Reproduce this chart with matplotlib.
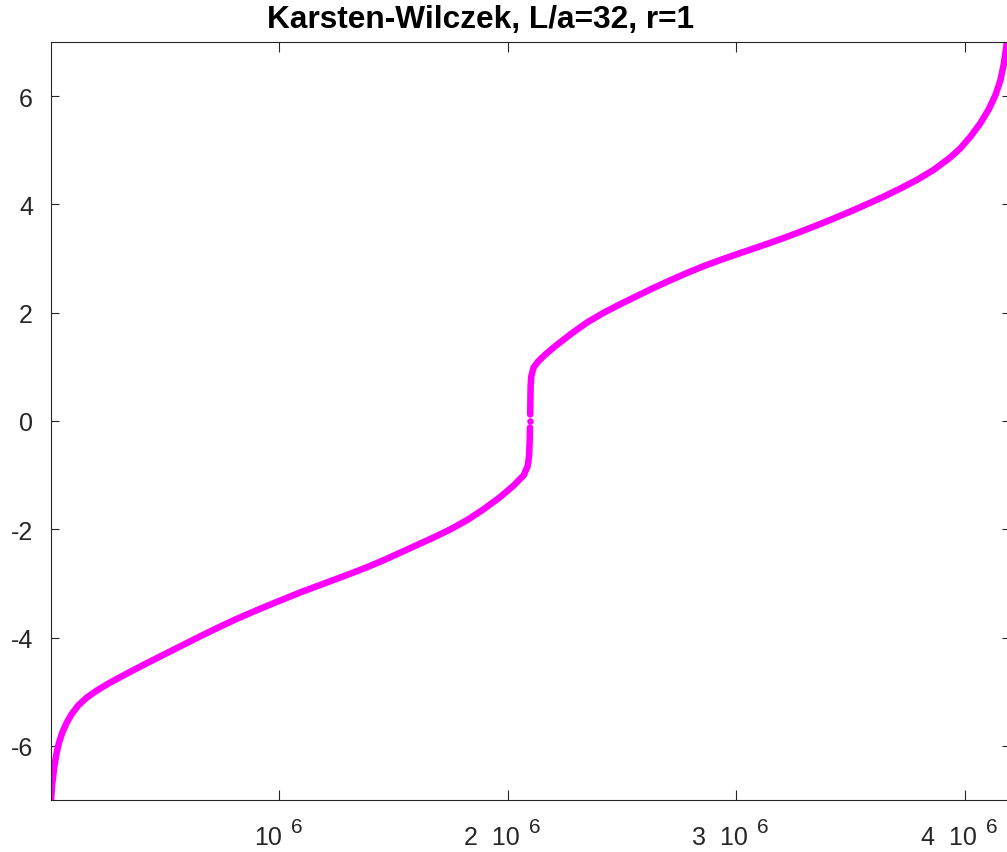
import numpy as np
import matplotlib
matplotlib.use("Agg")
import matplotlib.pyplot as plt
from matplotlib.transforms import blended_transform_factory, ScaledTranslation

plt.rcParams['font.family'] = ['Liberation Sans', 'DejaVu Sans']

# eigenvalue index (in units of 1e6) and sorted eigenvalue, negative branch
neg_idx = [0.0, 0.006, 0.015, 0.025, 0.035, 0.050, 0.069, 0.091, 0.120, 0.156,
           0.200, 0.251, 0.310, 0.368, 0.435, 0.508, 0.581, 0.654, 0.727, 0.800,
           0.873, 0.946, 1.019, 1.092, 1.165, 1.238, 1.311, 1.384, 1.457, 1.530,
           1.603, 1.676, 1.749, 1.822, 1.894, 1.968, 2.026, 2.070, 2.087, 2.093,
           2.096, 2.097]
neg_val = [-7.0, -6.68, -6.37, -6.12, -5.94, -5.75, -5.57, -5.41, -5.25, -5.11,
           -4.98, -4.85, -4.715, -4.585, -4.44, -4.285, -4.13, -3.975, -3.825, -3.68,
           -3.545, -3.415, -3.29, -3.165, -3.05, -2.935, -2.82, -2.70, -2.57, -2.43,
           -2.29, -2.15, -2.00, -1.83, -1.63, -1.40, -1.19, -1.00, -0.83, -0.65,
           -0.34, -0.12]

# isolated near-zero mode
zero_idx = [2.097]
zero_val = [0.0]

# positive branch
pos_idx = [2.098, 2.099, 2.100, 2.103, 2.113, 2.135, 2.165, 2.201, 2.274, 2.347,
           2.420, 2.493, 2.566, 2.639, 2.712, 2.785, 2.858, 2.931, 3.004, 3.062,
           3.135, 3.208, 3.281, 3.354, 3.427, 3.500, 3.573, 3.646, 3.719, 3.792,
           3.865, 3.938, 3.982, 4.025, 4.069, 4.106, 4.135, 4.157, 4.171, 4.182,
           4.185]
pos_val = [0.12, 0.40, 0.65, 0.83, 0.99, 1.11, 1.23, 1.36, 1.60, 1.82,
           2.00, 2.16, 2.31, 2.46, 2.60, 2.735, 2.86, 2.975, 3.082, 3.165,
           3.27, 3.38, 3.495, 3.615, 3.74, 3.87, 4.005, 4.145, 4.295, 4.455,
           4.64, 4.87, 5.04, 5.25, 5.50, 5.76, 6.02, 6.30, 6.58, 6.90,
           7.0]

n_modes = 4194304  # 4 * 32^4
xticks = [1e6, 2e6, 3e6, 4e6]
xtick_base = ['10', '2  10', '3  10', '4  10']
xtick_exp = ['6', '6', '6', '6']
yticks = [-6, -4, -2, 0, 2, 4, 6]
yticklabels = ['-6', '-4', '-2', '0', '2', '4', '6']

W, H = 1007, 853
fig = plt.figure(figsize=(W / 100, H / 100), dpi=100)
ax = fig.add_axes([51 / W, 1 - 801 / H, (1009 - 51) / W, (801 - 43) / H])

scale = 1e6
mag = '#ff00ff'
ax.plot(np.array(neg_idx) * scale, neg_val, color=mag, lw=4.7,
        solid_capstyle='round', solid_joinstyle='round')
ax.plot(np.array(pos_idx) * scale, pos_val, color=mag, lw=4.7,
        solid_capstyle='round', solid_joinstyle='round')
ax.plot(np.array(zero_idx) * scale, zero_val, 'o', color=mag, ms=4.7, mec='none')

ax.set_xlim(0, n_modes)
ax.set_ylim(-7, 7)
ax.set_xticks(xticks)
ax.set_xticklabels([])
ax.set_yticks(yticks)
ax.set_yticklabels(yticklabels)

dark = '#262626'
for s in ax.spines.values():
    s.set_color(dark)
    s.set_linewidth(0.8)
ax.tick_params(axis='x', direction='in', length=7.2, width=0.8, color=dark, top=True)
ax.tick_params(axis='y', direction='in', length=5.4, width=0.8, color=dark,
               right=True, labelsize=18, labelcolor=dark, pad=13)

# "2 10^6" style labels: mantissa text plus a raised exponent
xtr = blended_transform_factory(ax.transData, ax.transAxes)
for x, base, ex in zip(xticks, xtick_base, xtick_exp):
    dx = 3 if base == '10' else 12
    ax.text(x, 0, base, ha='right', va='baseline', fontsize=18, color=dark,
            transform=xtr + ScaledTranslation(dx / 100, -0.44, fig.dpi_scale_trans))
    ax.text(x, 0, ex, ha='left', va='baseline', fontsize=15, color=dark,
            transform=xtr + ScaledTranslation((dx + 9) / 100, -0.32, fig.dpi_scale_trans))

fig.text(481 / W, 1 - 28 / H, 'Karsten-Wilczek, L/a=32, r=1', ha='center',
         va='baseline', fontsize=22.8, fontweight='bold', color='black')

fig.savefig('out.png', dpi=100)
